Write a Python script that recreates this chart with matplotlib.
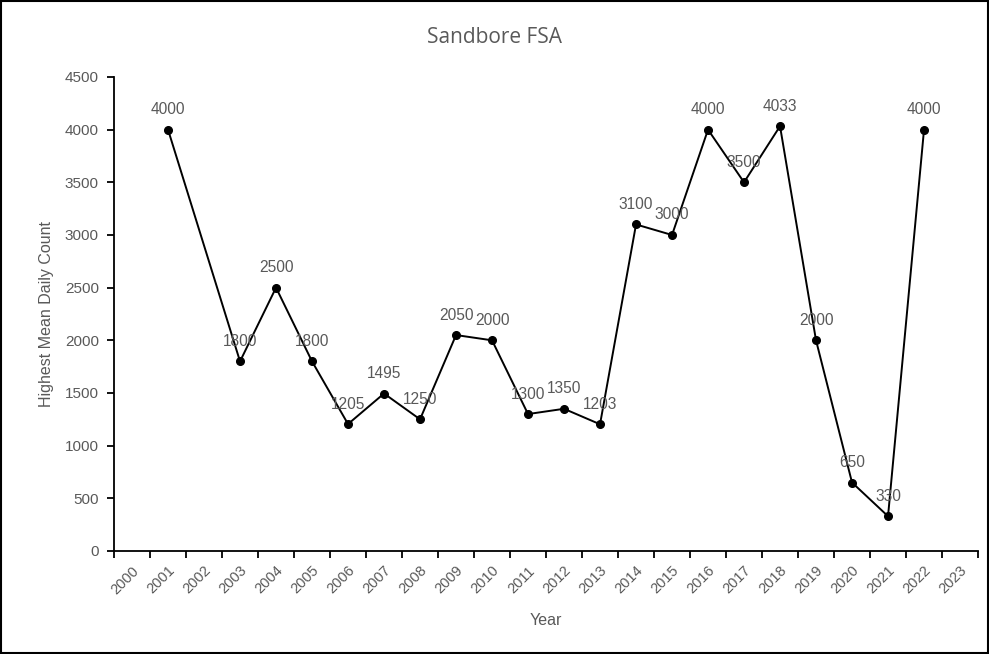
import numpy as np
import matplotlib.pyplot as plt
from matplotlib.ticker import FixedLocator, NullFormatter

# category axis, one slot per year
years = [str(y) for y in range(2000, 2024)]
# years with a value and the value itself
data_years = ['2001', '2003', '2004', '2005', '2006', '2007', '2008', '2009', '2010',
              '2011', '2012', '2013', '2014', '2015', '2016', '2017', '2018', '2019',
              '2020', '2021', '2022']
counts = [4000, 1800, 2500, 1800, 1205, 1495, 1250, 2050, 2000,
          1300, 1350, 1203, 3100, 3000, 4000, 3500, 4033, 2000,
          650, 330, 4000]

grey = '#595959'
plt.rcParams['font.family'] = ['Liberation Sans', 'DejaVu Sans']

fig = plt.figure(figsize=(9.89, 6.54), dpi=100)
ax = fig.add_axes([0.1153, 0.1575, 0.8736, 0.7248])

xpos = [years.index(y) for y in data_years]
ax.plot(xpos, counts, color='black', lw=1.4, marker='o', ms=5.5, zorder=3)

for x, v in zip(xpos, counts):
    ax.annotate(str(v), (x, v), xytext=(0, 9), textcoords='offset points',
                ha='center', va='bottom', fontsize=11.2, color=grey)

ax.set_xlim(-0.5, len(years) - 0.5)
ax.set_ylim(0, 4500)
ax.set_yticks(np.arange(0, 4501, 500))

# tick marks at category boundaries, labels centred in between
ax.xaxis.set_major_locator(FixedLocator(np.arange(-0.5, len(years), 1)))
ax.xaxis.set_major_formatter(NullFormatter())
ax.set_xticks(np.arange(len(years)), minor=True)
ax.set_xticklabels(years, minor=True, rotation=45, ha='right', rotation_mode='anchor',
                   fontsize=10.5, color=grey)
ax.tick_params(axis='x', which='minor', length=0, pad=9)
ax.tick_params(axis='x', which='major', length=5, width=1.3, color='black')
ax.tick_params(axis='y', length=5, width=1.3, color='black', labelsize=11, labelcolor=grey, pad=6)

for s in ['top', 'right']:
    ax.spines[s].set_visible(False)
for s in ['left', 'bottom']:
    ax.spines[s].set_linewidth(1.3)

ax.set_xlabel('Year', fontsize=11.5, color=grey, labelpad=12)
ax.set_ylabel('Highest Mean Daily Count', fontsize=11.5, color=grey, labelpad=8)
fig.text(0.5, 0.943, 'Sandbore FSA', ha='center', va='center', fontsize=15, color=grey,
         family=['Open Sans', 'DejaVu Sans'])

# outer frame
fig.patches.append(plt.Rectangle((0.001, 0.001), 0.998, 0.998, transform=fig.transFigure,
                                 fill=False, edgecolor='black', lw=1.5))

fig.savefig('out.png', dpi=100)
